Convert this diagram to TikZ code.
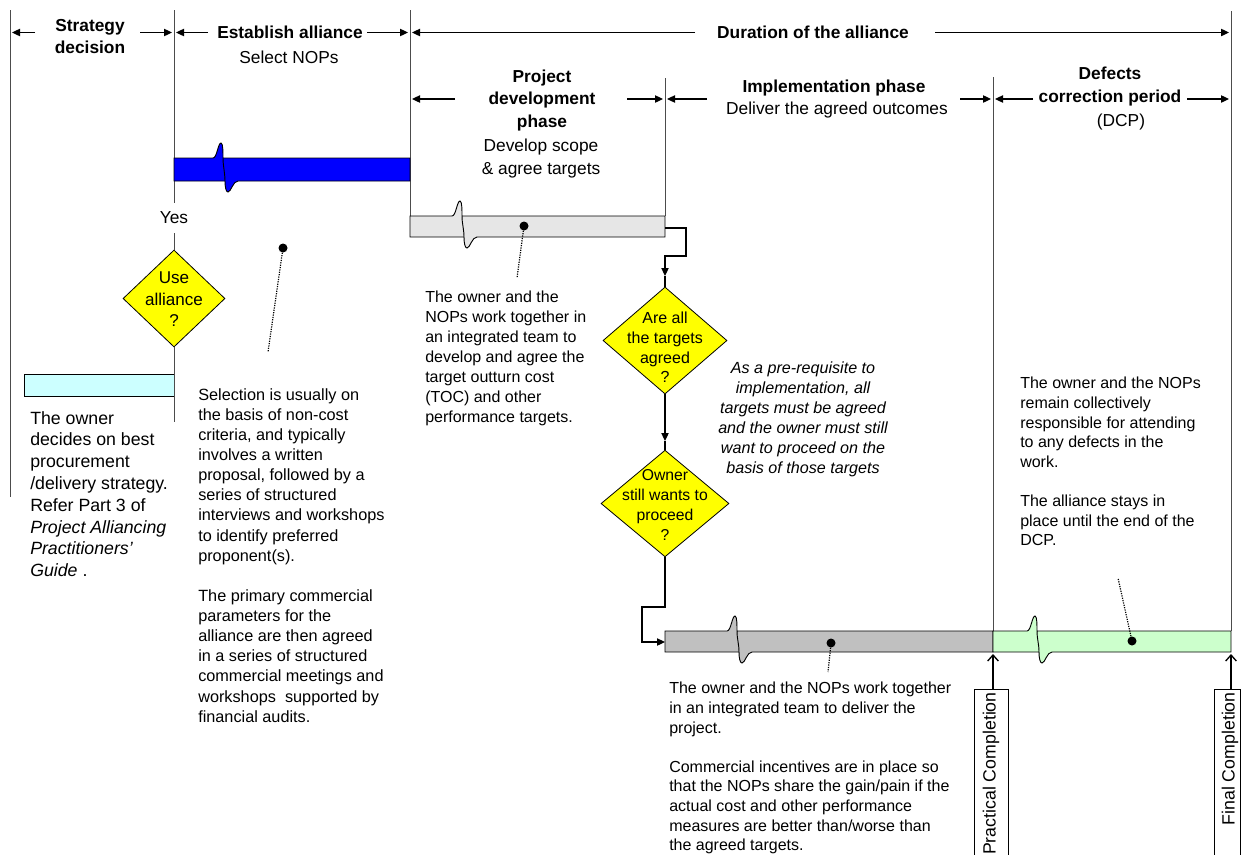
\documentclass[tikz,border=0pt]{standalone}
\usepackage{fontspec}
\setmainfont{Liberation Sans}
\usetikzlibrary{arrows.meta,shapes.geometric}
\definecolor{barblue}{HTML}{0000FF}
\definecolor{barlgray}{HTML}{E6E6E6}
\definecolor{bardgray}{HTML}{C0C0C0}
\definecolor{bargreen}{HTML}{CCFFCC}
\definecolor{barcyan}{HTML}{CCFFFF}
\definecolor{diayel}{HTML}{FFFF00}
% #1 x0, #2 x1, #3 ytop, #4 ybot, #5 xbreak, #6 fill
\newcommand{\brkbar}[6]{%
  \fill[#6] (#1,#3) -- (#5,#3)
    .. controls ({#5+4},#3) and ({#5+5},{#3-15}) .. ({#5+8},{#3-15})
    .. controls ({#5+10},{#3-15}) and ({#5+10},{#3-6}) .. ({#5+10},#3)
    -- (#2,#3) -- (#2,#4) -- ({#5+25},#4)
    .. controls ({#5+20},#4) and ({#5+18},{#4+11}) .. ({#5+15},{#4+11})
    .. controls ({#5+13},{#4+11}) and ({#5+12},{#4+6}) .. ({#5+12},#4)
    -- (#1,#4) -- cycle;
  \draw[barline] ({#5+10},#3) -- (#2,#3) -- (#2,#4) -- ({#5+25},#4)
    .. controls ({#5+20},#4) and ({#5+18},{#4+11}) .. ({#5+15},{#4+11})
    .. controls ({#5+13},{#4+11}) and ({#5+12},{#4+6}) .. ({#5+12},#4)
    .. controls ({#5+12},{#4-8}) and ({#5+10},{#3+8}) .. ({#5+10},#3)
    .. controls ({#5+10},{#3-6}) and ({#5+10},{#3-15}) .. ({#5+8},{#3-15})
    .. controls ({#5+5},{#3-15}) and ({#5+4},#3) .. (#5,#3)
    -- (#1,#3) -- (#1,#4) -- ({#5+12},#4);
}
\begin{document}
\begin{tikzpicture}[x=0.75pt,y=-0.75pt,
  vline/.style={draw=black!70,line width=0.6pt},
  barline/.style={draw=black,line width=0.7pt},
  harr/.style={-{Triangle[length=6pt,width=5.5pt]},line width=0.9pt},
  conn/.style={line width=0.8pt},
  arr/.style={-{Triangle[length=6pt,width=5.5pt]}},
  uarr/.style={-{Straight Barb[length=4.5pt,width=8pt]},line width=1pt},
  hd/.style={font=\fontsize{13}{17}\selectfont\bfseries,align=center,inner sep=0},
  sub/.style={font=\fontsize{13}{17}\selectfont,align=center,inner sep=0},
  body/.style={font=\fontsize{12}{15}\selectfont,align=left,inner sep=0,anchor=north west},
  dia/.style={diamond,draw,fill=diayel,line width=0.6pt,inner sep=0},
  diatxt/.style={align=center,inner sep=0},
  dot/.style={circle,fill=black,inner sep=0,minimum size=6.75pt},
  leader/.style={line width=0.9pt,dash pattern=on 0.9pt off 0.9pt},
  rot/.style={rotate=90,anchor=east,inner sep=0,font=\fontsize{13.3}{16}\selectfont},
]
\useasboundingbox (0,0) rectangle (1241,854);
\clip (0,0) rectangle (1241,854);

% ---------- phase lines ----------
\draw[vline] (10,10) -- (10,497);
\draw[vline] (174,10) -- (174,203);
\draw[vline] (410,10) -- (410,216);
\draw[vline] (665,78) -- (665,216);
\draw[vline] (993,77) -- (993,631);
\draw[vline] (1231,11) -- (1231,631);

% ---------- headers ----------
\node[hd] (strat) at (90,36.5) {Strategy\\decision};
\node[hd] (estab) at (290,32) {Establish alliance};
\node[sub] (selnop) at (289,57) {Select NOPs};
\node[hd] (dur) at (813,32) {Duration of the alliance};
\node[hd] (pdp) at (542,100.5) {Project\\development\\phase};
\node[sub] (devsc) at (541,158.5) {Develop scope\\\& agree targets};
\node[hd] (impl) at (834,88) {Implementation phase};
\node[sub] (deliv) at (837,110) {Deliver the agreed outcomes};
\node[hd] (defc) at (1110,86.5) {Defects\\correction period};
\node[sub] (dcp) at (1121,122) {(DCP)};

\draw[harr] (35,32.5) -- (12,32.5);
\draw[harr] (140,32.5) -- (172,32.5);
\draw[harr] (208,32.5) -- (176,32.5);
\draw[harr] (367,32.5) -- (408,32.5);
\draw[harr] (695,32.5) -- (412,32.5);
\draw[harr] (935,32.5) -- (1229,32.5);
\draw[harr] (455,99) -- (412,99);
\draw[harr] (627,99) -- (663,99);
\draw[harr] (707,99) -- (667,99);
\draw[harr] (960,99) -- (991,99);
\draw[harr] (1033,99) -- (995,99);
\draw[harr] (1187,99) -- (1229,99);

% ---------- bars ----------
\brkbar{174}{410}{158}{181}{213}{barblue}
\brkbar{410}{665}{216}{237}{452}{barlgray}
\brkbar{665}{993}{631}{652}{727}{bardgray}
\brkbar{993}{1231}{631}{652}{1027}{bargreen}
\draw[barline,fill=barcyan] (24,374) rectangle (174,396);

\coordinate (pdE) at (665,228);
\coordinate (impW) at (665,642);

% ---------- decisions ----------
\node[dia,minimum width=76.5pt,minimum height=72.75pt] (d0) at (174,298.5) {};
\node[diatxt,font=\fontsize{12.8}{16.1}\selectfont] at (174,299.5) {Use\\alliance\\?};
\node[font=\fontsize{13}{16}\selectfont,inner sep=0] (yes) at (174,218) {Yes};
\draw[vline] (yes.south) ++(0,9) -- (d0.north);
\draw[vline] (d0.south) -- (174,422);

\node[dia,minimum width=93pt,minimum height=80.25pt] (d1) at (665,340.5) {};
\node[diatxt,font=\fontsize{12}{14.8}\selectfont] at (665,347.5) {Are all\\the targets\\agreed\\?};
\node[dia,minimum width=96pt,minimum height=80pt] (d2) at (665,503.5) {};
\node[diatxt,font=\fontsize{11.8}{15.2}\selectfont] at (665,505) {Owner\\still wants to\\proceed\\?};

\coordinate (a1) at (665,276);
\coordinate (a2) at (665,441);
\draw[conn,arr] (pdE) -- (686,228) |- (665,256) -- (a1);
\draw[conn] (a1) -- (d1.north);
\draw[conn,arr] (d1.south) -- (a2);
\draw[conn] (a2) -- (d2.north);
\draw[conn,arr] (d2.south) -- (665,607) -- (642,607) -- (642,642) -- (impW);

% ---------- dots and leaders ----------
\node[dot] (dotE) at (283,248) {};
\coordinate (lE) at (268,352);
\draw[leader] (dotE) -- (lE);
\node[dot] (dotP) at (524,226) {};
\coordinate (lP) at (517,278);
\draw[leader] (dotP) -- (lP);
\node[dot] (dotI) at (831,643) {};
\coordinate (lI) at (828,672);
\draw[leader] (dotI) -- (lI);
\node[dot] (dotD) at (1132,641) {};
\coordinate (lD) at (1118,578);
\draw[leader] (dotD) -- (lD);

% ---------- texts ----------
\node[body,font=\fontsize{13.3}{16.35}\selectfont] (tstrat) at (30,411) {The owner\\decides on best\\procurement\\/delivery strategy.\\Refer Part 3 of\\\textit{Project Alliancing}\\\textit{Practitioners'}\\\textit{Guide} .};
\node[body,font=\fontsize{12.2}{15.1}\selectfont] (tsel) at (198,388) {Selection is usually on\\the basis of non-cost\\criteria, and typically\\involves a written\\proposal, followed by a\\series of structured\\interviews and workshops\\to identify preferred\\proponent(s).\\[15.1pt]The primary commercial\\parameters for the\\alliance are then agreed\\in a series of structured\\commercial meetings and\\workshops\ \ supported by\\financial audits.};
\node[body] (tdev) at (425,291) {The owner and the\\NOPs work together in\\an integrated team to\\develop and agree the\\target outturn cost\\(TOC) and other\\performance targets.};
\node[font=\fontsize{12.1}{15}\selectfont\itshape,align=center,inner sep=0,anchor=north] (tpre) at (803,362) {As a pre-requisite to\\implementation, all\\targets must be agreed\\and the owner must still\\want to proceed on the\\basis of those targets};
\node[body,font=\fontsize{12}{14.7}\selectfont] (tdcp) at (1020,377) {The owner and the NOPs\\remain collectively\\responsible for attending\\to any defects in the\\work.\\[14.7pt]The alliance stays in\\place until the end of the\\DCP.};
\node[body,font=\fontsize{12}{14.7}\selectfont] (timp) at (669,682) {The owner and the NOPs work together\\in an integrated team to deliver the\\project.\\[14.7pt]Commercial incentives are in place so\\that the NOPs share the gain/pain if the\\actual cost and other performance\\measures are better than/worse than\\the agreed targets.};

% ---------- completion markers ----------
\draw[line width=0.7pt] (974,689) rectangle (1008,880);
\node[rot] (pc) at (991,692) {Practical Completion};
\draw[line width=0.7pt] (1214,689) rectangle (1240.5,880);
\node[rot] (fc) at (1230,692) {Final Completion};
\draw[uarr] (993,689) -- (993,654);
\draw[uarr] (1231,689) -- (1231,654);
\end{tikzpicture}
\end{document}
